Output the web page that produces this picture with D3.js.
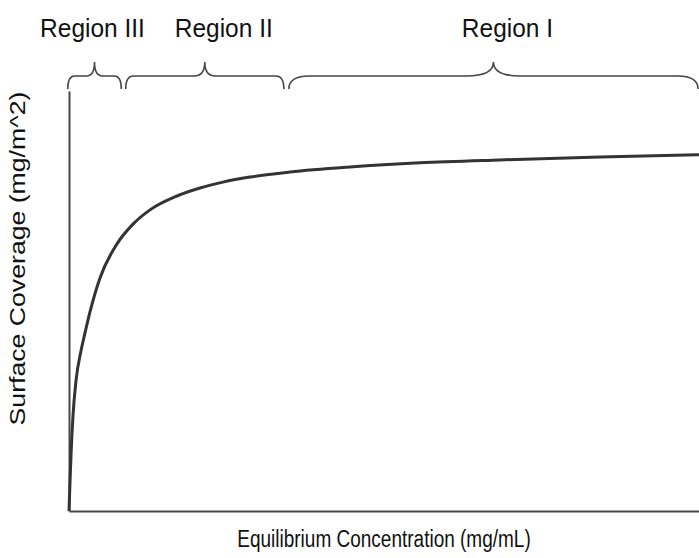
<!DOCTYPE html>
<html>
<head>
<meta charset="utf-8">
<script src="https://cdn.jsdelivr.net/npm/d3@7/dist/d3.min.js"></script>
<style>
  html, body { margin: 0; padding: 0; background: #fff; }
  svg { display: block; }
  text { font-family: "Liberation Sans", Arial, sans-serif; fill: #111; }
</style>
</head>
<body>
<svg id="chart" width="699" height="558"></svg>
<script>
// Adsorption isotherm: equilibrium concentration vs surface coverage
const concentration = [0, 0.016, 0.032, 0.063, 0.111, 0.190, 0.254, 0.333, 0.492, 0.762, 1.016, 1.286, 1.714, 2.079, 2.444, 2.873, 3.508, 4.460, 5.571, 6.841, 8.429, 10];
const coverage      = [0, 0.069, 0.133, 0.226, 0.310, 0.381, 0.424, 0.474, 0.555, 0.636, 0.683, 0.717, 0.750, 0.769, 0.783, 0.795, 0.807, 0.819, 0.829, 0.836, 0.843, 0.848];

// Adsorption regions along the concentration axis
const regionNames = ["Region III", "Region II", "Region I"];
const regionStart = [-0.02, 0.9, 3.49];
const regionEnd   = [0.83, 3.41, 10];

const xTitle = "Equilibrium Concentration (mg/mL)";
const yTitle = "Surface Coverage (mg/m^2)";

const svg = d3.select("#chart");
const margin = { left: 69, right: 0, top: 91, bottom: 47 };
const W = 699, H = 558;

const x = d3.scaleLinear().domain([0, 10]).range([margin.left, W - margin.right]);
const y = d3.scaleLinear().domain([0, 1]).range([H - margin.bottom, margin.top]);

// Axes without ticks: only the domain lines
svg.append("g")
  .attr("transform", `translate(0,${y(0)})`)
  .call(d3.axisBottom(x).tickValues([]).tickSizeOuter(0));
svg.append("g")
  .attr("transform", `translate(${x(0)},0)`)
  .call(d3.axisLeft(y).tickValues([]).tickSizeOuter(0));
svg.selectAll(".domain").attr("stroke", "#474747").attr("stroke-width", 2);

// Isotherm curve
const pts = concentration.map((c, i) => [c, coverage[i]]);
const line = d3.line().x(d => x(d[0])).y(d => y(d[1])).curve(d3.curveMonotoneX);
svg.append("path")
  .datum(pts)
  .attr("d", line)
  .attr("fill", "none")
  .attr("stroke", "#333")
  .attr("stroke-width", 3)
  .attr("stroke-linejoin", "round");

// Curly braces marking each region
function bracePath(x0, x1, yb, yh, yt) {
  const w = x1 - x0;
  const xm = (x0 + x1) / 2;
  const r = Math.max(7, 0.05 * w);
  const r2 = Math.max(8, 0.066 * w);
  return `M${x0},${yb} Q${x0},${yh} ${x0 + r},${yh} L${xm - r2},${yh} Q${xm},${yh} ${xm},${yt}` +
         ` Q${xm},${yh} ${xm + r2},${yh} L${x1 - r},${yh} Q${x1},${yh} ${x1},${yb}`;
}

const regions = regionNames.map((name, i) => ({
  name,
  x0: x(regionStart[i]),
  x1: Math.min(x(regionEnd[i]), W - 1)
}));

svg.selectAll("path.brace")
  .data(regions)
  .join("path")
  .attr("class", "brace")
  .attr("d", d => bracePath(d.x0, d.x1, 89, 76, 62))
  .attr("fill", "none")
  .attr("stroke", "#444")
  .attr("stroke-width", 1.6);

// Labels sit above their braces, nudged sideways
const labelShift = [-2, 19, 14];
svg.selectAll("text.region")
  .data(regions)
  .join("text")
  .attr("class", "region")
  .attr("transform", (d, i) => `translate(${(d.x0 + d.x1) / 2 + labelShift[i]},37) scale(1,1.08)`)
  .attr("text-anchor", "middle")
  .attr("font-size", 24.5)
  .text(d => d.name);

// Axis titles
svg.append("text")
  .attr("transform", "translate(384,547) scale(1,1.22)")
  .attr("text-anchor", "middle")
  .attr("font-size", 19)
  .text(xTitle);

svg.append("text")
  .attr("transform", "translate(25,258.5) rotate(-90) scale(1.24,1)")
  .attr("text-anchor", "middle")
  .attr("font-size", 21.5)
  .text(yTitle);
</script>
</body>
</html>
